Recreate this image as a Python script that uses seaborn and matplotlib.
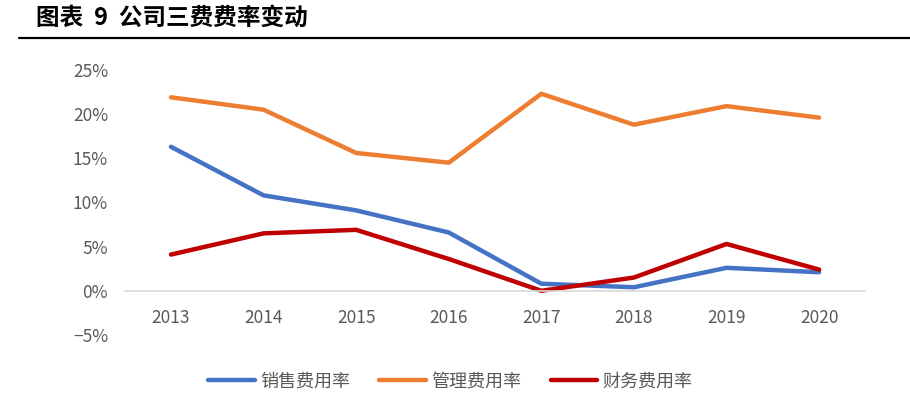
import pandas as pd
import matplotlib.pyplot as plt
import matplotlib.ticker as mticker
import seaborn as sns

years = ['2013', '2014', '2015', '2016', '2017', '2018', '2019', '2020']
sales_rate = [16.3, 10.8, 9.1, 6.6, 0.8, 0.4, 2.6, 2.1]
admin_rate = [21.9, 20.5, 15.6, 14.5, 22.3, 18.8, 20.9, 19.6]
finance_rate = [4.1, 6.5, 6.9, 3.6, 0.0, 1.5, 5.3, 2.4]
series_names = ['销售费用率', '管理费用率', '财务费用率']
colors = ['#4472C4', '#ED7D31', '#C00000']

df = pd.DataFrame({'year': years * 3,
                   'rate': sales_rate + admin_rate + finance_rate,
                   'name': [n for n in series_names for _ in years]})

sns.set_style('white')
plt.rcParams['font.family'] = ['Noto Sans CJK SC', 'DejaVu Sans']

fig = plt.figure(figsize=(9.1, 3.95), dpi=100)
ax = fig.add_axes([0.137, 0.152, 0.814, 0.671])

sns.lineplot(data=df, x='year', y='rate', hue='name', palette=colors,
             linewidth=3.2, sort=False, ax=ax, legend=True)

ax.set_xlim(-0.5, 7.5)
ax.set_ylim(-5, 25)
ax.set_yticks([-5, 0, 5, 10, 15, 20, 25])
ax.yaxis.set_major_formatter(mticker.FuncFormatter(lambda v, p: f'{v:.0f}%'.replace('-', '−')))
ax.set_xlabel('')
ax.set_ylabel('')

for s in ['top', 'right', 'left']:
    ax.spines[s].set_visible(False)
ax.spines['bottom'].set_position(('data', 0))
ax.spines['bottom'].set_color('#D9D9D9')
ax.spines['bottom'].set_linewidth(1.2)
ax.tick_params(axis='both', length=0, labelsize=12.5, labelcolor='#595959')
ax.tick_params(axis='x', pad=13)
ax.tick_params(axis='y', pad=12)

handles, labels = ax.get_legend_handles_labels()
ax.get_legend().remove()
fig.legend(handles, labels, loc='center', bbox_to_anchor=(0.495, 0.035), ncol=3, frameon=False,
           fontsize=13, handlelength=2.6, handletextpad=0.3, columnspacing=1.6,
           labelcolor='#595959', borderaxespad=0, borderpad=0)

fig.text(0.04, 0.954, '图表  9  公司三费费率变动', fontsize=17, fontweight='bold',
         va='center', ha='left', color='black')
fig.add_artist(plt.Line2D([0.021, 1.0], [0.904, 0.904], color='black', linewidth=1.6))

plt.savefig('out.png', dpi=100)
